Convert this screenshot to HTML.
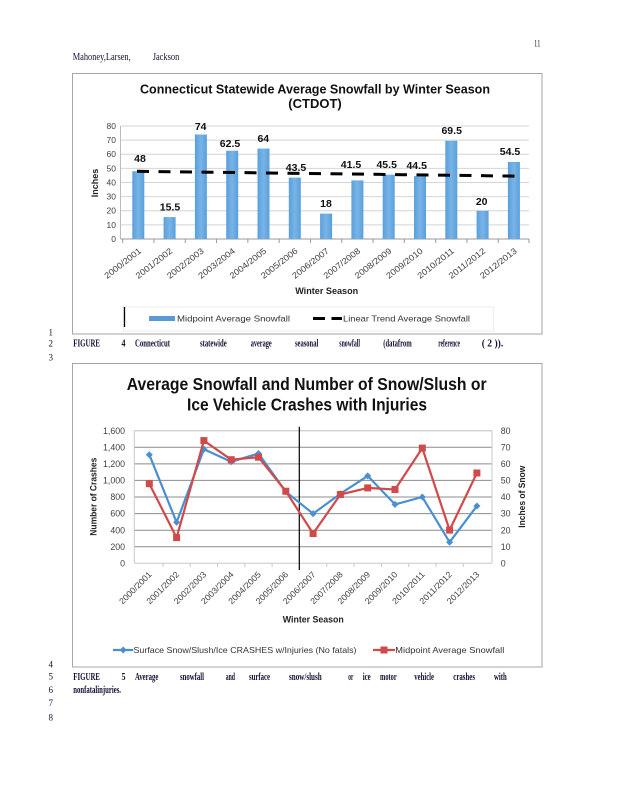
<!DOCTYPE html>
<html><head><meta charset="utf-8"><style>
html,body{margin:0;padding:0;background:#fff;}
svg{display:block;}
.s{font-family:"Liberation Serif",serif;}
.a{font-family:"Liberation Sans",sans-serif;}
</style></head><body>
<svg width="618" height="800" viewBox="0 0 618 800" xmlns="http://www.w3.org/2000/svg">
<rect width="618" height="800" fill="#fff"/>
<!-- header -->
<text class="s" x="534" y="46.5" font-size="9" fill="#111133" textLength="6.5" lengthAdjust="spacingAndGlyphs">11</text>
<text class="s" x="72.7" y="60" font-size="10" fill="#111133" textLength="58" lengthAdjust="spacingAndGlyphs">Mahoney,Larsen,</text>
<text class="s" x="152.7" y="60" font-size="10" fill="#111133" textLength="26.6" lengthAdjust="spacingAndGlyphs">Jackson</text>

<!-- ============ TOP CHART ============ -->
<rect x="72.5" y="73.5" width="469.5" height="260.5" fill="#fff" stroke="#a6a6a6" stroke-width="1"/>
<text class="a" x="315" y="93.3" font-size="13" font-weight="bold" text-anchor="middle" fill="#111" textLength="350" lengthAdjust="spacingAndGlyphs">Connecticut Statewide Average Snowfall by Winter Season</text>
<text class="a" x="315" y="107.8" font-size="13" font-weight="bold" text-anchor="middle" fill="#111">(CTDOT)</text>
<!-- gridlines -->
<g stroke="#d4d4d4" stroke-width="1">
<line x1="120.5" y1="126" x2="529" y2="126"/>
<line x1="120.5" y1="140.1" x2="529" y2="140.1"/>
<line x1="120.5" y1="154.25" x2="529" y2="154.25"/>
<line x1="120.5" y1="168.4" x2="529" y2="168.4"/>
<line x1="120.5" y1="182.5" x2="529" y2="182.5"/>
<line x1="120.5" y1="196.6" x2="529" y2="196.6"/>
<line x1="120.5" y1="210.75" x2="529" y2="210.75"/>
<line x1="120.5" y1="224.9" x2="529" y2="224.9"/>
</g>
<line x1="120.5" y1="239" x2="529" y2="239" stroke="#9a9a9a" stroke-width="1"/>
<line x1="120.5" y1="126" x2="120.5" y2="239" stroke="#bbb" stroke-width="1"/>
<g stroke="#9a9a9a" stroke-width="1">
<line x1="122.65" y1="239" x2="122.65" y2="243"/><line x1="153.95" y1="239" x2="153.95" y2="243"/><line x1="185.25" y1="239" x2="185.25" y2="243"/><line x1="216.55" y1="239" x2="216.55" y2="243"/><line x1="247.85" y1="239" x2="247.85" y2="243"/><line x1="279.15" y1="239" x2="279.15" y2="243"/><line x1="310.45" y1="239" x2="310.45" y2="243"/><line x1="341.75" y1="239" x2="341.75" y2="243"/><line x1="373.05" y1="239" x2="373.05" y2="243"/><line x1="404.35" y1="239" x2="404.35" y2="243"/><line x1="435.65" y1="239" x2="435.65" y2="243"/><line x1="466.95" y1="239" x2="466.95" y2="243"/><line x1="498.25" y1="239" x2="498.25" y2="243"/><line x1="529" y1="239" x2="529" y2="243"/>
</g>
<!-- y ticks -->
<g class="a" font-size="8.5" fill="#404040" text-anchor="end">
<text x="116" y="129">80</text><text x="116" y="143.1">70</text><text x="116" y="157.2">60</text><text x="116" y="171.4">50</text><text x="116" y="185.5">40</text><text x="116" y="199.6">30</text><text x="116" y="213.7">20</text><text x="116" y="227.9">10</text><text x="116" y="242">0</text>
</g>
<text class="a" transform="translate(98,183) rotate(-90)" font-size="9" font-weight="bold" fill="#222" text-anchor="middle">Inches</text>
<!-- bars -->
<defs>
<linearGradient id="bg" x1="0" x2="1" y1="0" y2="0">
<stop offset="0" stop-color="#5a9fdb"/><stop offset="0.5" stop-color="#78b4e6"/><stop offset="1" stop-color="#5a9fdb"/>
</linearGradient>
</defs>
<g fill="url(#bg)">
<rect x="132.3" y="171.2" width="12" height="67.8"/>
<rect x="163.6" y="217.1" width="12" height="21.9"/>
<rect x="194.9" y="134.5" width="12" height="104.5"/>
<rect x="226.2" y="150.7" width="12" height="88.3"/>
<rect x="257.5" y="148.6" width="12" height="90.4"/>
<rect x="288.8" y="177.6" width="12" height="61.4"/>
<rect x="320.1" y="213.6" width="12" height="25.4"/>
<rect x="351.4" y="180.4" width="12" height="58.6"/>
<rect x="382.7" y="174.7" width="12" height="64.3"/>
<rect x="414" y="176.1" width="12" height="62.9"/>
<rect x="445.3" y="140.8" width="12" height="98.2"/>
<rect x="476.6" y="210.75" width="12" height="28.25"/>
<rect x="507.9" y="162" width="12" height="77"/>
</g>
<!-- trend -->
<line x1="137" y1="171.3" x2="515" y2="176.1" stroke="#000" stroke-width="3" stroke-dasharray="12 9.5"/>
<!-- value labels -->
<g class="a" font-size="10.5" font-weight="bold" fill="#111" text-anchor="middle">
<text x="140" y="162">48</text>
<text x="170" y="210.5">15.5</text>
<text x="200.7" y="130">74</text>
<text x="230" y="147">62.5</text>
<text x="263.3" y="142">64</text>
<text x="296" y="171">43.5</text>
<text x="326" y="207">18</text>
<text x="351" y="168">41.5</text>
<text x="386.7" y="168">45.5</text>
<text x="416.7" y="168.8">44.5</text>
<text x="451.7" y="134">69.5</text>
<text x="481.7" y="205">20</text>
<text x="510" y="155">54.5</text>
</g>
<!-- x labels -->
<g class="a" font-size="8.5" fill="#404040" text-anchor="end">
<text transform="translate(141.8,252) rotate(-38)" textLength="44" lengthAdjust="spacingAndGlyphs">2000/2001</text>
<text transform="translate(173.1,252) rotate(-38)" textLength="44" lengthAdjust="spacingAndGlyphs">2001/2002</text>
<text transform="translate(204.4,252) rotate(-38)" textLength="44" lengthAdjust="spacingAndGlyphs">2002/2003</text>
<text transform="translate(235.7,252) rotate(-38)" textLength="44" lengthAdjust="spacingAndGlyphs">2003/2004</text>
<text transform="translate(267,252) rotate(-38)" textLength="44" lengthAdjust="spacingAndGlyphs">2004/2005</text>
<text transform="translate(298.3,252) rotate(-38)" textLength="44" lengthAdjust="spacingAndGlyphs">2005/2006</text>
<text transform="translate(329.6,252) rotate(-38)" textLength="44" lengthAdjust="spacingAndGlyphs">2006/2007</text>
<text transform="translate(360.9,252) rotate(-38)" textLength="44" lengthAdjust="spacingAndGlyphs">2007/2008</text>
<text transform="translate(392.2,252) rotate(-38)" textLength="44" lengthAdjust="spacingAndGlyphs">2008/2009</text>
<text transform="translate(423.5,252) rotate(-38)" textLength="44" lengthAdjust="spacingAndGlyphs">2009/2010</text>
<text transform="translate(454.8,252) rotate(-38)" textLength="44" lengthAdjust="spacingAndGlyphs">2010/2011</text>
<text transform="translate(486.1,252) rotate(-38)" textLength="44" lengthAdjust="spacingAndGlyphs">2011/2012</text>
<text transform="translate(517.4,252) rotate(-38)" textLength="44" lengthAdjust="spacingAndGlyphs">2012/2013</text>
</g>
<text class="a" x="326.7" y="294" font-size="9.5" font-weight="bold" fill="#222" text-anchor="middle" textLength="63" lengthAdjust="spacingAndGlyphs">Winter Season</text>
<!-- legend -->
<rect x="123.5" y="307" width="370" height="24" fill="none" stroke="#ececec" stroke-width="1"/>
<line x1="124.5" y1="307" x2="124.5" y2="327" stroke="#000" stroke-width="1.3"/>
<rect x="149" y="316" width="26" height="5" fill="#5b9bd5"/>
<text class="a" x="177" y="321.5" font-size="8.5" fill="#333" textLength="113" lengthAdjust="spacingAndGlyphs">Midpoint Average Snowfall</text>
<line x1="313" y1="318.5" x2="325" y2="318.5" stroke="#000" stroke-width="3"/>
<line x1="331.5" y1="318.5" x2="342" y2="318.5" stroke="#000" stroke-width="3"/>
<text class="a" x="343" y="321.5" font-size="8.5" fill="#333" textLength="127" lengthAdjust="spacingAndGlyphs">Linear Trend Average Snowfall</text>

<!-- line numbers & caption fig 4 -->
<g class="s" font-size="9" fill="#111133" text-anchor="middle">
<text x="50.7" y="335.5">1</text>
<text x="50.7" y="346.3">2</text>
<text x="50.7" y="360.5">3</text>
<text x="50.7" y="667.3">4</text>
<text x="50.7" y="679.5">5</text>
<text x="50.7" y="692.8">6</text>
<text x="50.7" y="706">7</text>
<text x="50.7" y="720.7">8</text>
</g>
<g class="s" font-size="10.5" font-weight="bold" fill="#111133">
<text x="73.3" y="346.3" textLength="26.7" lengthAdjust="spacingAndGlyphs">FIGURE</text>
<text x="121.5" y="346.3" textLength="4" lengthAdjust="spacingAndGlyphs">4</text>
<text x="135" y="346.3" textLength="35" lengthAdjust="spacingAndGlyphs">Connecticut</text>
<text x="200" y="346.3" textLength="26.7" lengthAdjust="spacingAndGlyphs">statewide</text>
<text x="250.7" y="346.3" textLength="21" lengthAdjust="spacingAndGlyphs">average</text>
<text x="295" y="346.3" textLength="23.3" lengthAdjust="spacingAndGlyphs">seasonal</text>
<text x="339.3" y="346.3" textLength="20.7" lengthAdjust="spacingAndGlyphs">snowfall</text>
<text x="383.3" y="346.3" textLength="28.4" lengthAdjust="spacingAndGlyphs">(datafrom</text>
<text x="438.3" y="346.3" textLength="21.7" lengthAdjust="spacingAndGlyphs">reference</text>
<text x="481.7" y="346.3" textLength="21.6" lengthAdjust="spacingAndGlyphs">( 2 )).</text>
</g>

<!-- ============ BOTTOM CHART ============ -->
<rect x="72.5" y="363.5" width="469.5" height="303.5" fill="#fff" stroke="#a6a6a6" stroke-width="1"/>
<text class="a" x="306.7" y="390" font-size="17.5" font-weight="bold" text-anchor="middle" fill="#111" textLength="360" lengthAdjust="spacingAndGlyphs">Average Snowfall and Number of Snow/Slush or</text>
<text class="a" x="307" y="410.5" font-size="17.5" font-weight="bold" text-anchor="middle" fill="#111" textLength="240" lengthAdjust="spacingAndGlyphs">Ice Vehicle Crashes with Injuries</text>
<!-- gridlines -->
<g stroke="#8c8c8c" stroke-width="1">
<line x1="134.3" y1="430.7" x2="492" y2="430.7" stroke="#bdbdbd"/>
<line x1="134.3" y1="447.3" x2="492" y2="447.3"/>
<line x1="134.3" y1="463.9" x2="492" y2="463.9"/>
<line x1="134.3" y1="480.4" x2="492" y2="480.4"/>
<line x1="134.3" y1="497" x2="492" y2="497"/>
<line x1="134.3" y1="513.6" x2="492" y2="513.6"/>
<line x1="134.3" y1="530.2" x2="492" y2="530.2"/>
<line x1="134.3" y1="546.7" x2="492" y2="546.7"/>
</g>
<line x1="134.3" y1="563.3" x2="492" y2="563.3" stroke="#c8c8c8" stroke-width="1"/>
<line x1="134.3" y1="430.7" x2="134.3" y2="563.3" stroke="#c8c8c8" stroke-width="1"/>
<line x1="492" y1="430.7" x2="492" y2="563.3" stroke="#c8c8c8" stroke-width="1"/>
<g stroke="#c8c8c8" stroke-width="1">
<line x1="162.95" y1="563.3" x2="162.95" y2="567"/><line x1="190.25" y1="563.3" x2="190.25" y2="567"/><line x1="217.55" y1="563.3" x2="217.55" y2="567"/><line x1="244.85" y1="563.3" x2="244.85" y2="567"/><line x1="272.15" y1="563.3" x2="272.15" y2="567"/><line x1="326.75" y1="563.3" x2="326.75" y2="567"/><line x1="354.05" y1="563.3" x2="354.05" y2="567"/><line x1="381.35" y1="563.3" x2="381.35" y2="567"/><line x1="408.65" y1="563.3" x2="408.65" y2="567"/><line x1="435.95" y1="563.3" x2="435.95" y2="567"/><line x1="463.25" y1="563.3" x2="463.25" y2="567"/>
</g>
<!-- left ticks -->
<g class="a" font-size="8.8" fill="#404040" text-anchor="end">
<text x="125" y="433.8">1,600</text><text x="125" y="450.4">1,400</text><text x="125" y="467">1,200</text><text x="125" y="483.5">1,000</text><text x="125" y="500.1">800</text><text x="125" y="516.7">600</text><text x="125" y="533.3">400</text><text x="125" y="549.8">200</text><text x="125" y="566.4">0</text>
</g>
<g class="a" font-size="8.8" fill="#404040" text-anchor="start">
<text x="500.7" y="433.8">80</text><text x="500.7" y="450.4">70</text><text x="500.7" y="467">60</text><text x="500.7" y="483.5">50</text><text x="500.7" y="500.1">40</text><text x="500.7" y="516.7">30</text><text x="500.7" y="533.3">20</text><text x="500.7" y="549.8">10</text><text x="500.7" y="566.4">0</text>
</g>
<text class="a" transform="translate(96.5,496.7) rotate(-90)" font-size="9.5" font-weight="bold" fill="#222" text-anchor="middle" textLength="78" lengthAdjust="spacingAndGlyphs">Number of Crashes</text>
<text class="a" transform="translate(525,496.7) rotate(-90)" font-size="9.5" font-weight="bold" fill="#222" text-anchor="middle" textLength="62" lengthAdjust="spacingAndGlyphs">Inches of Snow</text>
<!-- vertical black line -->
<line x1="299.3" y1="426.7" x2="299.3" y2="570" stroke="#000" stroke-width="1.2"/>
<!-- blue series -->
<polyline fill="none" stroke="#4a8fd0" stroke-width="2.2" stroke-linejoin="round" points="149.3,454.7 176.6,522.3 203.9,449.3 231.2,461.8 258.5,453.5 285.8,491.7 313.1,513.7 340.4,493.7 367.7,475.9 395,504.4 422.3,497 449.6,542.2 476.9,506"/>
<g fill="#4a8fd0">
<path d="M149.3,451.2 l3.5,3.5 l-3.5,3.5 l-3.5,-3.5z"/>
<path d="M176.6,518.8 l3.5,3.5 l-3.5,3.5 l-3.5,-3.5z"/>
<path d="M203.9,445.8 l3.5,3.5 l-3.5,3.5 l-3.5,-3.5z"/>
<path d="M231.2,458.3 l3.5,3.5 l-3.5,3.5 l-3.5,-3.5z"/>
<path d="M258.5,450 l3.5,3.5 l-3.5,3.5 l-3.5,-3.5z"/>
<path d="M285.8,488.2 l3.5,3.5 l-3.5,3.5 l-3.5,-3.5z"/>
<path d="M313.1,510.2 l3.5,3.5 l-3.5,3.5 l-3.5,-3.5z"/>
<path d="M340.4,490.2 l3.5,3.5 l-3.5,3.5 l-3.5,-3.5z"/>
<path d="M367.7,472.4 l3.5,3.5 l-3.5,3.5 l-3.5,-3.5z"/>
<path d="M395,500.9 l3.5,3.5 l-3.5,3.5 l-3.5,-3.5z"/>
<path d="M422.3,493.5 l3.5,3.5 l-3.5,3.5 l-3.5,-3.5z"/>
<path d="M449.6,538.7 l3.5,3.5 l-3.5,3.5 l-3.5,-3.5z"/>
<path d="M476.9,502.5 l3.5,3.5 l-3.5,3.5 l-3.5,-3.5z"/>
</g>
<!-- red series -->
<polyline fill="none" stroke="#d04a4a" stroke-width="2.2" stroke-linejoin="round" points="149.3,483.7 176.6,537.6 203.9,440.6 231.2,459.7 258.5,457.2 285.8,491.2 313.1,533.5 340.4,494.5 367.7,487.9 395,489.5 422.3,448.1 449.6,530.1 476.9,473"/>
<g fill="#d04a4a">
<rect x="145.8" y="480.2" width="7" height="7"/>
<rect x="173.1" y="534.1" width="7" height="7"/>
<rect x="200.4" y="437.1" width="7" height="7"/>
<rect x="227.7" y="456.2" width="7" height="7"/>
<rect x="255" y="453.7" width="7" height="7"/>
<rect x="282.3" y="487.7" width="7" height="7"/>
<rect x="309.6" y="530" width="7" height="7"/>
<rect x="336.9" y="491" width="7" height="7"/>
<rect x="364.2" y="484.4" width="7" height="7"/>
<rect x="391.5" y="486" width="7" height="7"/>
<rect x="418.8" y="444.6" width="7" height="7"/>
<rect x="446.1" y="526.6" width="7" height="7"/>
<rect x="473.4" y="469.5" width="7" height="7"/>
</g>
<!-- x labels -->
<g class="a" font-size="8.5" fill="#404040" text-anchor="end">
<text transform="translate(152.3,575) rotate(-45)" textLength="42" lengthAdjust="spacingAndGlyphs">2000/2001</text>
<text transform="translate(179.6,575) rotate(-45)" textLength="42" lengthAdjust="spacingAndGlyphs">2001/2002</text>
<text transform="translate(206.9,575) rotate(-45)" textLength="42" lengthAdjust="spacingAndGlyphs">2002/2003</text>
<text transform="translate(234.2,575) rotate(-45)" textLength="42" lengthAdjust="spacingAndGlyphs">2003/2004</text>
<text transform="translate(261.5,575) rotate(-45)" textLength="42" lengthAdjust="spacingAndGlyphs">2004/2005</text>
<text transform="translate(288.8,575) rotate(-45)" textLength="42" lengthAdjust="spacingAndGlyphs">2005/2006</text>
<text transform="translate(316.1,575) rotate(-45)" textLength="42" lengthAdjust="spacingAndGlyphs">2006/2007</text>
<text transform="translate(343.4,575) rotate(-45)" textLength="42" lengthAdjust="spacingAndGlyphs">2007/2008</text>
<text transform="translate(370.7,575) rotate(-45)" textLength="42" lengthAdjust="spacingAndGlyphs">2008/2009</text>
<text transform="translate(398,575) rotate(-45)" textLength="42" lengthAdjust="spacingAndGlyphs">2009/2010</text>
<text transform="translate(425.3,575) rotate(-45)" textLength="42" lengthAdjust="spacingAndGlyphs">2010/2011</text>
<text transform="translate(452.6,575) rotate(-45)" textLength="42" lengthAdjust="spacingAndGlyphs">2011/2012</text>
<text transform="translate(479.9,575) rotate(-45)" textLength="42" lengthAdjust="spacingAndGlyphs">2012/2013</text>
</g>
<text class="a" x="313.3" y="622.5" font-size="9.5" font-weight="bold" fill="#222" text-anchor="middle" textLength="61" lengthAdjust="spacingAndGlyphs">Winter Season</text>
<!-- legend -->
<line x1="113" y1="650" x2="133.3" y2="650" stroke="#4a8fd0" stroke-width="2.2"/>
<path d="M123.2,646.5 l3.5,3.5 l-3.5,3.5 l-3.5,-3.5z" fill="#4a8fd0"/>
<text class="a" x="133.5" y="653" font-size="8.5" fill="#333" textLength="223" lengthAdjust="spacingAndGlyphs">Surface Snow/Slush/Ice CRASHES w/Injuries (No fatals)</text>
<line x1="373" y1="650" x2="395" y2="650" stroke="#d04a4a" stroke-width="2.2"/>
<rect x="380.5" y="646.5" width="7" height="7" fill="#d04a4a"/>
<text class="a" x="395.3" y="653" font-size="8.5" fill="#333" textLength="109" lengthAdjust="spacingAndGlyphs">Midpoint Average Snowfall</text>

<!-- caption fig 5 -->
<g class="s" font-size="10.5" font-weight="bold" fill="#111133">
<text x="73.3" y="679.8" textLength="26.7" lengthAdjust="spacingAndGlyphs">FIGURE</text>
<text x="121.5" y="679.8" textLength="4" lengthAdjust="spacingAndGlyphs">5</text>
<text x="135" y="679.8" textLength="23.3" lengthAdjust="spacingAndGlyphs">Average</text>
<text x="180" y="679.8" textLength="24" lengthAdjust="spacingAndGlyphs">snowfall</text>
<text x="225.7" y="679.8" textLength="9.3" lengthAdjust="spacingAndGlyphs">and</text>
<text x="249" y="679.8" textLength="21" lengthAdjust="spacingAndGlyphs">surface</text>
<text x="289" y="679.8" textLength="32.7" lengthAdjust="spacingAndGlyphs">snow/slush</text>
<text x="348.3" y="679.8" textLength="5" lengthAdjust="spacingAndGlyphs">or</text>
<text x="362.7" y="679.8" textLength="8" lengthAdjust="spacingAndGlyphs">ice</text>
<text x="380" y="679.8" textLength="16.7" lengthAdjust="spacingAndGlyphs">motor</text>
<text x="414.3" y="679.8" textLength="19.7" lengthAdjust="spacingAndGlyphs">vehicle</text>
<text x="453.3" y="679.8" textLength="21.7" lengthAdjust="spacingAndGlyphs">crashes</text>
<text x="494" y="679.8" textLength="12.7" lengthAdjust="spacingAndGlyphs">with</text>
<text x="73.3" y="692.8" textLength="47.7" lengthAdjust="spacingAndGlyphs">nonfatalinjuries.</text>
</g>
</svg>
</body></html>
